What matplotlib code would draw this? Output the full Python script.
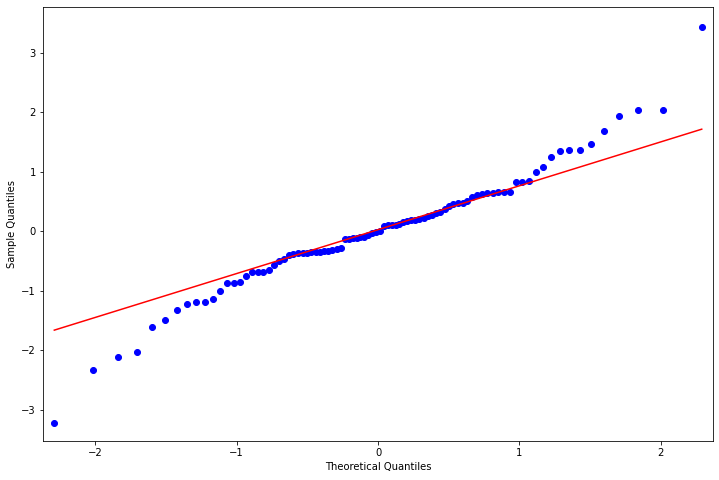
import matplotlib
matplotlib.use("Agg")
import matplotlib.pyplot as plt

# theoretical quantiles
theoretical = [
    -2.291, -2.015, -1.839, -1.706, -1.598, -1.506, -1.426, -1.354, -1.288, -1.227,
    -1.170, -1.117, -1.068, -1.020, -0.975, -0.931, -0.889, -0.849, -0.811, -0.773,
    -0.736, -0.701, -0.666, -0.632, -0.599, -0.566, -0.534, -0.502, -0.471, -0.441,
    -0.411, -0.381, -0.352, -0.323, -0.293, -0.265, -0.236, -0.208, -0.180, -0.152,
    -0.124, -0.097, -0.069, -0.041, -0.014, 0.014, 0.041, 0.069, 0.097, 0.124,
    0.152, 0.180, 0.208, 0.236, 0.265, 0.293, 0.323, 0.352, 0.381, 0.411,
    0.441, 0.471, 0.502, 0.534, 0.566, 0.599, 0.632, 0.666, 0.701, 0.736,
    0.773, 0.811, 0.849, 0.889, 0.931, 0.975, 1.020, 1.068, 1.117, 1.170,
    1.227, 1.288, 1.354, 1.426, 1.506, 1.598, 1.706, 1.839, 2.015, 2.291,
]

# sample quantiles
sample = [
    -3.22, -2.34, -2.11, -2.04, -1.62, -1.50, -1.33, -1.22, -1.20, -1.19,
    -1.14, -1.00, -0.88, -0.88, -0.86, -0.76, -0.68, -0.68, -0.69, -0.66,
    -0.57, -0.50, -0.47, -0.40, -0.38, -0.37, -0.36, -0.36, -0.35, -0.35,
    -0.35, -0.34, -0.33, -0.31, -0.30, -0.28, -0.14, -0.13, -0.12, -0.11,
    -0.10, -0.09, -0.07, -0.03, -0.01, 0.00, 0.09, 0.10, 0.11, 0.11,
    0.12, 0.15, 0.17, 0.18, 0.19, 0.20, 0.22, 0.25, 0.27, 0.30,
    0.33, 0.38, 0.42, 0.45, 0.47, 0.48, 0.50, 0.58, 0.60, 0.62,
    0.64, 0.65, 0.66, 0.66, 0.66, 0.82, 0.82, 0.84, 1.00, 1.08,
    1.24, 1.34, 1.36, 1.36, 1.46, 1.68, 1.93, 2.03, 2.03, 3.43,
]

# reference line end points
line_x = [-2.291, 2.291]
line_y = [-1.665, 1.715]

fig = plt.figure(figsize=(719 / 72, 480 / 72), dpi=72)
ax = fig.add_subplot(111)
fig.subplots_adjust(left=0.0598, right=0.9917, top=0.9854, bottom=0.0812)

ax.plot(theoretical, sample, marker="o", linestyle="none",
        markerfacecolor="b", markeredgecolor="b")
ax.plot(line_x, line_y, "r-")

ax.set_xlim(-2.371, 2.371)
ax.set_ylim(-3.53, 3.77)
ax.set_xlabel("Theoretical Quantiles")
ax.set_ylabel("Sample Quantiles")

fig.savefig("out.png", dpi=72)
